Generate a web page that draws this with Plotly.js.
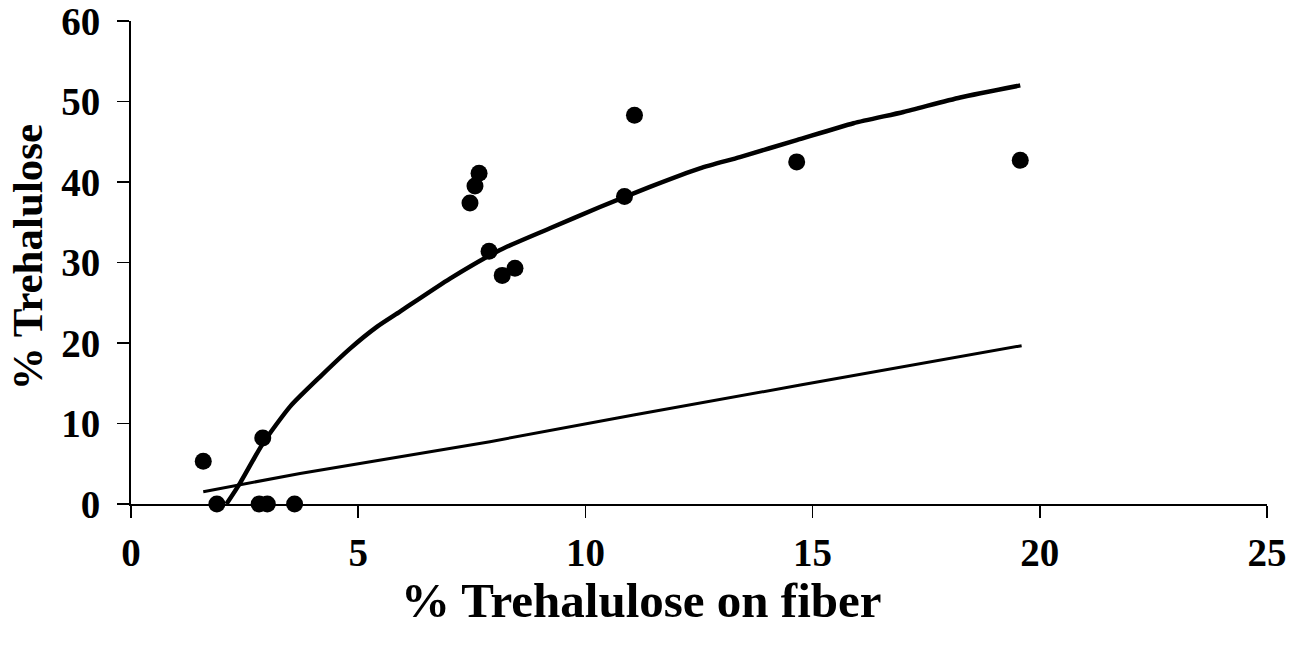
<!DOCTYPE html>
<html>
<head>
<meta charset="utf-8">
<script src="https://cdn.plot.ly/plotly-3.0.1.min.js"></script>
<style>html,body{margin:0;padding:0;background:#fff;}#chart{width:1299px;height:649px;}</style>
</head>
<body>
<div id="chart"></div>
<script>
// Observed data points
const pointsX = [1.59, 1.89, 2.82, 3.0, 3.6, 2.9, 7.46, 7.57, 7.66, 7.88, 8.17, 8.45, 10.86, 11.08, 14.65, 19.57];
const pointsY = [5.3, 0, 0, 0, 0, 8.2, 37.4, 39.5, 41.1, 31.4, 28.4, 29.3, 38.2, 48.3, 42.5, 42.7];

// Upper fitted curve
const curveX = [2.1, 2.4, 2.9, 3.5, 4.16, 4.82, 5.41, 5.92, 7.02, 8.12, 9.22, 10.32, 11.42, 12.52, 13.4, 14.65, 15.9, 17.0, 18.25, 19.57];
const curveY = [0, 2.6, 7.5, 12.1, 15.8, 19.3, 22.0, 23.9, 28.0, 31.55, 34.25, 36.9, 39.4, 41.7, 43.1, 45.2, 47.3, 48.7, 50.5, 52.0];

// Lower line
const lineX = [1.59, 3.72, 7.9, 11.06, 14.73, 19.6];
const lineY = [1.53, 3.8, 7.74, 11.06, 14.78, 19.67];

const xTicks = [0, 5, 10, 15, 20, 25];
const yTicks = [0, 10, 20, 30, 40, 50, 60];
const xTitle = '% Trehalulose on fiber';
const yTitle = '% Trehalulose';

const FONT = 'Liberation Serif, Times New Roman, serif';

const traces = [
  {x: lineX, y: lineY, mode: 'lines', line: {color: '#000', width: 3}, cliponaxis: false, hoverinfo: 'skip'},
  {x: curveX, y: curveY, mode: 'lines', line: {color: '#000', width: 4.5, shape: 'spline', smoothing: 0.6}, cliponaxis: false, hoverinfo: 'skip'},
  {x: pointsX, y: pointsY, mode: 'markers', marker: {color: '#000', size: 17}, cliponaxis: false}
];

const layout = {
  width: 1299, height: 649,
  margin: {l: 131, r: 32, t: 21, b: 145},
  paper_bgcolor: '#fff', plot_bgcolor: '#fff',
  showlegend: false,
  font: {family: FONT, color: '#000'},
  xaxis: {
    range: [0, 25], tickvals: xTicks, ticktext: xTicks.map(String),
    showgrid: false, zeroline: false, showline: true, linecolor: '#000', linewidth: 2,
    ticks: 'outside', ticklen: 12, tickwidth: 1.5, tickcolor: '#000',
    tickfont: {family: FONT, size: 39, weight: 'bold', color: '#000'},
    ticklabelstandoff: 1, ticklabeloverflow: 'allow'
  },
  yaxis: {
    range: [0, 60], tickvals: yTicks, ticktext: yTicks.map(String),
    showgrid: false, zeroline: false, showline: true, linecolor: '#000', linewidth: 2,
    ticks: 'outside', ticklen: 12, tickwidth: 1.5, tickcolor: '#000',
    tickfont: {family: FONT, size: 39, weight: 'bold', color: '#000'},
    ticklabelstandoff: 9, ticklabeloverflow: 'allow'
  },
  annotations: [
    {text: xTitle, xref: 'paper', yref: 'paper', x: 0.449, y: -0.2008, xanchor: 'center', yanchor: 'middle', showarrow: false,
     font: {family: FONT, size: 49, weight: 'bold', color: '#000'}},
    {text: yTitle, xref: 'paper', yref: 'paper', x: -0.0915, y: 0.511, xanchor: 'center', yanchor: 'middle', textangle: -90, showarrow: false,
     font: {family: FONT, size: 43, weight: 'bold', color: '#000'}}
  ]
};

Plotly.newPlot('chart', traces, layout, {displayModeBar: false, staticPlot: true});
</script>
</body>
</html>
